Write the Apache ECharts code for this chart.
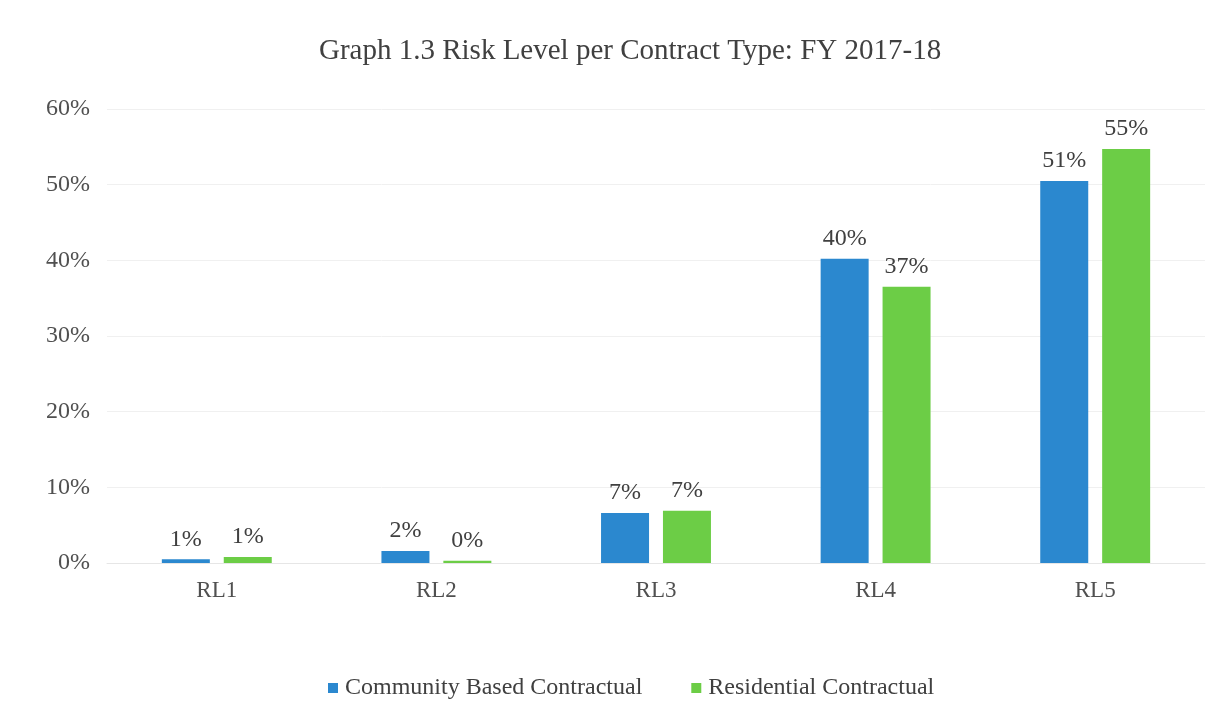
<!DOCTYPE html>
<html><head><meta charset="utf-8">
<script src="https://cdn.jsdelivr.net/npm/echarts@6/dist/echarts.min.js"></script>
<style>html,body{margin:0;padding:0;background:#fff}#c{width:1229px;height:719px}</style>
</head><body><div id="c"></div>
<script>
const categories = ['RL1', 'RL2', 'RL3', 'RL4', 'RL5'];
const communityBased = [0.5, 1.6, 6.6, 40.2, 50.5];
const residential = [0.8, 0.3, 6.9, 36.5, 54.7];
const seriesNames = ['Community Based Contractual', 'Residential Contractual'];
const titleText = 'Graph 1.3 Risk Level per Contract Type: FY 2017-18';

const font = 'Liberation Serif';
const chart = echarts.init(document.getElementById('c'));
const lbl = {
  show: true, position: 'top', distance: 8,
  fontFamily: font, fontSize: 24, color: '#404040',
  formatter: p => Math.round(p.value) + '%'
};
chart.setOption({
  animation: false,
  title: {
    text: titleText, left: 314, top: 32,
    textStyle: { fontFamily: font, fontSize: 29, fontWeight: 'normal', color: '#404040' }
  },
  legend: {
    top: 671, left: 323, itemWidth: 10, itemHeight: 10, itemGap: 49,
    icon: 'rect',
    textStyle: { fontFamily: font, fontSize: 24, color: '#404040', padding: [0, 0, 0, 2] },
    data: seriesNames
  },
  grid: { left: 107, right: 24, top: 109, bottom: 156 },
  xAxis: {
    type: 'category', data: categories,
    axisLine: { lineStyle: { color: '#e6e6e6' } },
    axisTick: { show: false },
    axisLabel: { fontFamily: font, fontSize: 23, color: '#505050', margin: 16 }
  },
  yAxis: {
    type: 'value', min: 0, max: 60, interval: 10,
    axisLine: { show: false }, axisTick: { show: false },
    splitLine: { lineStyle: { color: '#f0f0f0' } },
    axisLabel: { fontFamily: font, fontSize: 24, color: '#505050', margin: 17, formatter: '{value}%' }
  },
  series: [
    { name: seriesNames[0], type: 'bar', data: communityBased, barWidth: 48, barGap: '29%',
      itemStyle: { color: '#2b88cf' }, label: lbl },
    { name: seriesNames[1], type: 'bar', data: residential, barWidth: 48,
      itemStyle: { color: '#6ccd46' }, label: lbl }
  ]
});
</script></body></html>
